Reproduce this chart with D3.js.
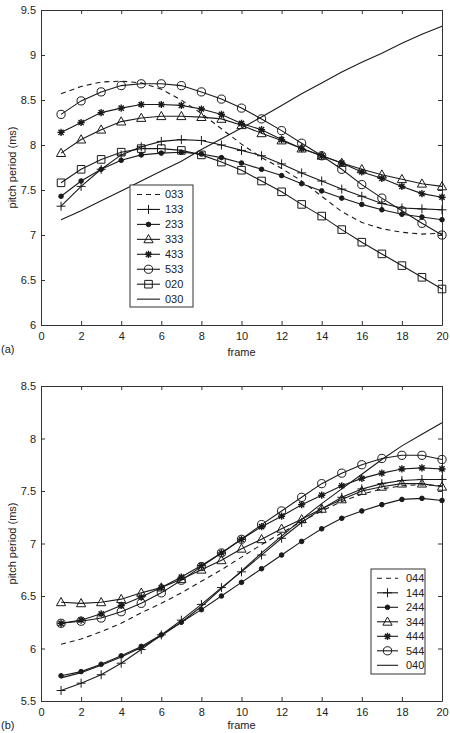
<!DOCTYPE html>
<html>
<head>
<meta charset="utf-8">
<script src="https://cdn.jsdelivr.net/npm/d3@7"></script>
<style>
  body { margin: 0; background: #fff; }
  svg text { font-family: "Liberation Sans", Arial, sans-serif; font-size: 11px; fill: #222; }
  .axis path, .axis line { stroke: #333; }
</style>
</head>
<body>
<div id="chart"></div>
<script>
// x values and ticks shared by both panels
const frames = [1, 2, 3, 4, 5, 6, 7, 8, 9, 10, 11, 12, 13, 14, 15, 16, 17, 18, 19, 20];
const xTicks = [0, 2, 4, 6, 8, 10, 12, 14, 16, 18, 20];

// panel (a)
const yTicksA = [6, 6.5, 7, 7.5, 8, 8.5, 9, 9.5];
const namesA = ["033", "133", "233", "333", "433", "533", "020", "030"];
const s033 = [8.57, 8.65, 8.70, 8.71, 8.69, 8.62, 8.50, 8.35, 8.18, 8.01, 7.86, 7.74, 7.60, 7.43, 7.26, 7.14, 7.07, 7.03, 7.01, 7.02];
const s133 = [7.32, 7.54, 7.73, 7.89, 7.98, 8.04, 8.06, 8.05, 8.00, 7.94, 7.88, 7.79, 7.69, 7.60, 7.51, 7.43, 7.35, 7.30, 7.29, 7.28];
const s233 = [7.43, 7.60, 7.73, 7.83, 7.89, 7.91, 7.92, 7.90, 7.86, 7.80, 7.73, 7.66, 7.57, 7.49, 7.41, 7.34, 7.28, 7.23, 7.20, 7.17];
const s333 = [7.91, 8.06, 8.17, 8.26, 8.30, 8.32, 8.32, 8.31, 8.29, 8.22, 8.13, 8.05, 7.96, 7.88, 7.80, 7.73, 7.67, 7.62, 7.57, 7.54];
const s433 = [8.14, 8.25, 8.36, 8.41, 8.45, 8.45, 8.44, 8.40, 8.34, 8.24, 8.17, 8.06, 7.96, 7.88, 7.80, 7.70, 7.63, 7.54, 7.46, 7.42];
const s533 = [8.34, 8.49, 8.59, 8.66, 8.68, 8.68, 8.66, 8.59, 8.51, 8.41, 8.29, 8.16, 8.02, 7.88, 7.73, 7.56, 7.41, 7.27, 7.13, 7.00];
const s020 = [7.58, 7.73, 7.84, 7.92, 7.96, 7.96, 7.94, 7.89, 7.81, 7.72, 7.60, 7.48, 7.34, 7.21, 7.06, 6.92, 6.79, 6.66, 6.53, 6.40];
const s030 = [7.17, 7.27, 7.38, 7.49, 7.60, 7.71, 7.82, 7.95, 8.07, 8.19, 8.31, 8.44, 8.57, 8.69, 8.81, 8.92, 9.02, 9.13, 9.23, 9.32];

// panel (b)
const yTicksB = [5.5, 6, 6.5, 7, 7.5, 8, 8.5];
const namesB = ["044", "144", "244", "344", "444", "544", "040"];
const s044 = [6.04, 6.09, 6.16, 6.24, 6.34, 6.43, 6.53, 6.64, 6.75, 6.87, 6.99, 7.10, 7.21, 7.31, 7.40, 7.47, 7.52, 7.55, 7.56, 7.55];
const s144 = [5.60, 5.67, 5.75, 5.86, 5.99, 6.13, 6.27, 6.42, 6.58, 6.73, 6.89, 7.05, 7.20, 7.33, 7.44, 7.52, 7.57, 7.60, 7.61, 7.61];
const s244 = [5.74, 5.78, 5.85, 5.93, 6.02, 6.13, 6.25, 6.37, 6.50, 6.63, 6.76, 6.89, 7.02, 7.14, 7.24, 7.31, 7.37, 7.42, 7.43, 7.41];
const s344 = [6.44, 6.43, 6.44, 6.47, 6.53, 6.58, 6.66, 6.75, 6.84, 6.95, 7.04, 7.14, 7.23, 7.33, 7.42, 7.50, 7.54, 7.57, 7.57, 7.54];
const s444 = [6.24, 6.27, 6.33, 6.41, 6.49, 6.58, 6.68, 6.79, 6.91, 7.04, 7.16, 7.26, 7.37, 7.46, 7.55, 7.62, 7.67, 7.71, 7.72, 7.71];
const s544 = [6.24, 6.26, 6.29, 6.35, 6.43, 6.53, 6.65, 6.78, 6.91, 7.04, 7.18, 7.31, 7.44, 7.57, 7.67, 7.75, 7.81, 7.84, 7.84, 7.80];
const s040 = [5.72, 5.77, 5.84, 5.92, 6.01, 6.12, 6.25, 6.40, 6.57, 6.74, 6.91, 7.07, 7.23, 7.38, 7.52, 7.66, 7.80, 7.93, 8.04, 8.15];

// marker style for the legend order: dashed, plus, dot, triangle, star, circle, (square), solid
const stylesA = ["dash", "plus", "dot", "triangle", "star", "circle", "square", "none"];
const stylesB = ["dash", "plus", "dot", "triangle", "star", "circle", "none"];

const LINE = "#1a1a1a";

function markerPath(type) {
  switch (type) {
    case "plus": return "M-4.5,0H4.5M0,-4.5V4.5";
    case "star": return "M-3.6,0H3.6M0,-3.6V3.6M-2.6,-2.6L2.6,2.6M-2.6,2.6L2.6,-2.6";
    case "triangle": return "M0,-4.8L4.6,3.4L-4.6,3.4Z";
    case "square": return "M-3.8,-3.8H3.8V3.8H-3.8Z";
    case "circle": return "M4.1,0A4.1,4.1 0 1,1 -4.1,0A4.1,4.1 0 1,1 4.1,0Z";
    case "dot": return "M2.3,0A2.3,2.3 0 1,1 -2.3,0A2.3,2.3 0 1,1 2.3,0Z";
    default: return null;
  }
}

function drawMarker(g, type, x, y) {
  const p = markerPath(type);
  if (!p) return;
  g.append("path")
    .attr("d", p)
    .attr("transform", `translate(${x},${y})`)
    .attr("fill", type === "dot" ? LINE : "none")
    .attr("stroke", LINE)
    .attr("stroke-width", type === "star" ? 1.4 : 1);
}

const svg = d3.select("#chart")
  .append("svg")
  .attr("width", 450)
  .attr("height", 733);

class PitchPanel {
  constructor(_config, _series) {
    this.config = _config;
    this.series = _series;
    this.initVis();
  }

  initVis() {
    let vis = this;
    const c = vis.config;

    vis.width = c.right - c.left;
    vis.height = c.bottom - c.top;

    vis.xScale = d3.scaleLinear().domain([0, 20]).range([0, vis.width]);
    vis.yScale = d3.scaleLinear().domain(c.yDomain).range([vis.height, 0]);

    vis.chart = svg.append("g")
      .attr("transform", `translate(${c.left},${c.top})`);

    // MATLAB style box with ticks pointing inward
    vis.chart.append("g").attr("class", "axis")
      .attr("transform", `translate(0,${vis.height})`)
      .call(d3.axisBottom(vis.xScale).tickValues(xTicks).tickSizeInner(-4).tickSizeOuter(0).tickPadding(7).tickFormat(d => d))
      .call(g => g.selectAll("text").attr("fill", "#222"));
    vis.chart.append("g").attr("class", "axis")
      .call(d3.axisTop(vis.xScale).tickValues(xTicks).tickSizeInner(-4).tickSizeOuter(0).tickFormat(""));
    vis.chart.append("g").attr("class", "axis")
      .call(d3.axisLeft(vis.yScale).tickValues(c.yTicks).tickSizeInner(-4).tickSizeOuter(0).tickPadding(5).tickFormat(d => d))
      .call(g => g.selectAll("text").attr("fill", "#222"));
    vis.chart.append("g").attr("class", "axis")
      .attr("transform", `translate(${vis.width},0)`)
      .call(d3.axisRight(vis.yScale).tickValues(c.yTicks).tickSizeInner(-4).tickSizeOuter(0).tickFormat(""));
    vis.chart.selectAll(".axis text").style("font-size", "11px");

    // axis titles
    vis.chart.append("text")
      .attr("x", vis.width / 2)
      .attr("y", vis.height + c.frameOffset)
      .attr("text-anchor", "middle")
      .text("frame");
    vis.chart.append("text")
      .attr("transform", `translate(${12 - c.left},${vis.height / 2}) rotate(-90)`)
      .attr("text-anchor", "middle")
      .attr("dy", "0.35em")
      .text("pitch period (ms)");
    vis.chart.append("text")
      .attr("x", 1 - c.left)
      .attr("y", vis.height + 28)
      .text(c.tag);

    vis.renderVis();
  }

  renderVis() {
    let vis = this;
    const line = d3.line()
      .x((d, i) => vis.xScale(frames[i]))
      .y(d => vis.yScale(d));

    vis.series.forEach(s => {
      vis.chart.append("path")
        .datum(s.values)
        .attr("d", line)
        .attr("fill", "none")
        .attr("stroke", LINE)
        .attr("stroke-width", 1.1)
        .attr("stroke-dasharray", s.style === "dash" ? "5,4" : null);
      s.values.forEach((v, i) => drawMarker(vis.chart, s.style, vis.xScale(frames[i]), vis.yScale(v)));
    });

    // legend
    const L = vis.config.legend;
    const lg = svg.append("g").attr("transform", `translate(${L.x},${L.y})`);
    lg.append("rect")
      .attr("width", L.w).attr("height", L.h)
      .attr("fill", "#fff").attr("stroke", "#333").attr("stroke-width", 1);
    vis.series.forEach((s, i) => {
      const y = L.first + i * L.step;
      lg.append("line")
        .attr("x1", L.x1).attr("x2", L.x2).attr("y1", y).attr("y2", y)
        .attr("stroke", LINE).attr("stroke-width", 1.1)
        .attr("stroke-dasharray", s.style === "dash" ? "5,4" : null);
      drawMarker(lg, s.style, (L.x1 + L.x2) / 2, y);
      lg.append("text")
        .attr("x", L.tx).attr("y", y).attr("dy", "0.36em")
        .text(s.name);
    });
  }
}

const valuesA = [s033, s133, s233, s333, s433, s533, s020, s030];
const valuesB = [s044, s144, s244, s344, s444, s544, s040];

new PitchPanel({
  left: 41, right: 442, top: 10, bottom: 325, frameOffset: 31,
  yDomain: [6, 9.5], yTicks: yTicksA, tag: "(a)",
  legend: { x: 130, y: 185, w: 63, h: 122, first: 9.5, step: 14.95, x1: 7, x2: 30, tx: 35 }
}, namesA.map((n, i) => ({ name: n, values: valuesA[i], style: stylesA[i] })));

new PitchPanel({
  left: 41, right: 442, top: 386, bottom: 701, frameOffset: 28,
  yDomain: [5.5, 8.5], yTicks: yTicksB, tag: "(b)",
  legend: { x: 371, y: 569, w: 54, h: 105, first: 9.3, step: 14.5, x1: 6, x2: 27, tx: 35 }
}, namesB.map((n, i) => ({ name: n, values: valuesB[i], style: stylesB[i] })));
</script>
</body>
</html>
